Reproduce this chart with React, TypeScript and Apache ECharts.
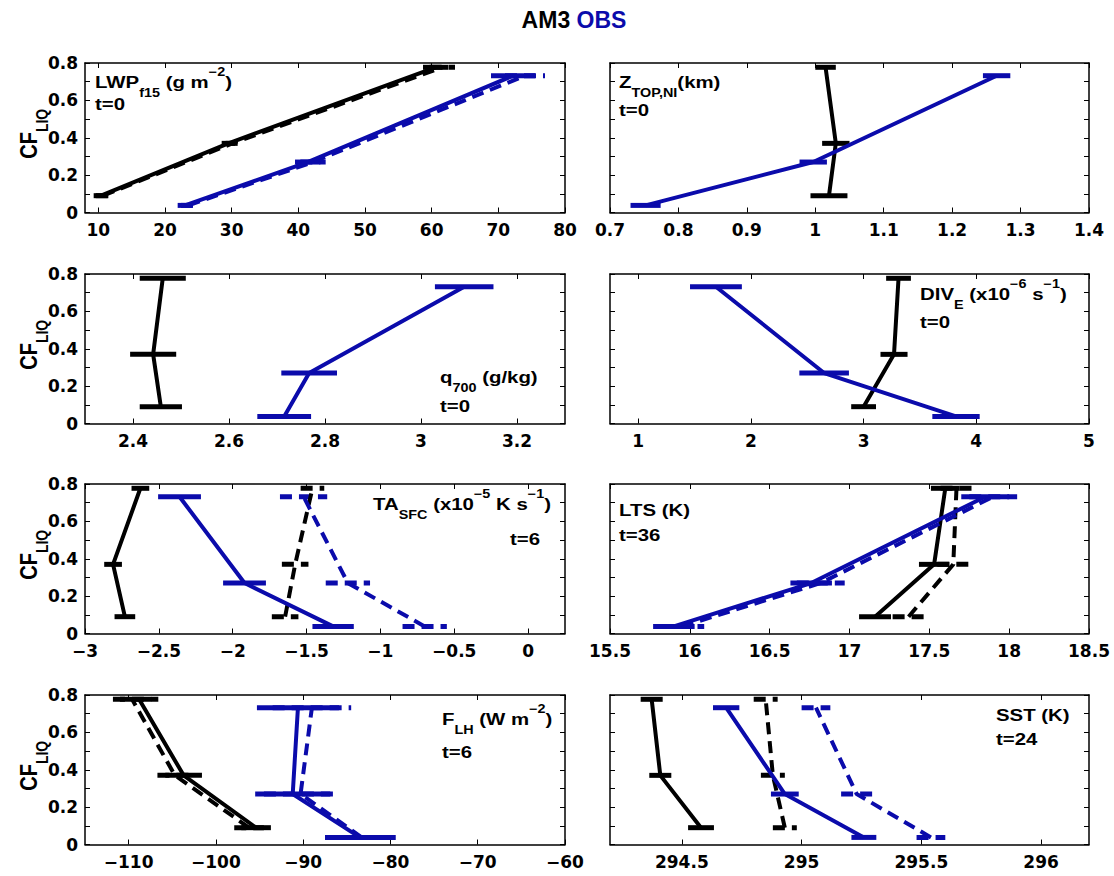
import React, { useEffect, useRef } from "react";
import * as echarts from "echarts";

// ---------- data ----------
// cloud-fraction (y) of the three bins
const cfAm3 = [0.09, 0.37, 0.777];
const cfObs = [0.038, 0.27, 0.732];
const cfTicks = [0, 0.1, 0.2, 0.3, 0.4, 0.5, 0.6, 0.7, 0.8];
const cfLabels = [0, 0.2, 0.4, 0.6, 0.8];

// LWP_f15
const lwpTicks = [10, 20, 30, 40, 50, 60, 70, 80];
const lwpAm3 = [10.4, 29.5, 60.6];
const lwpAm3Err = [1.1, 1.0, 1.9];
const lwpAm3Dash = [10.7, 30.1, 61.6];
const lwpAm3DashErr = [1.1, 1.0, 1.9];
const lwpObs = [23.0, 41.4, 72.2];
const lwpObsErr = [1.1, 1.9, 3.3];
const lwpObsDash = [23.5, 42.2, 74.0];
const lwpObsDashErr = [1.1, 1.9, 3.0];

// Z_TOP,NI
const ztopTicks = [0.7, 0.8, 0.9, 1, 1.1, 1.2, 1.3, 1.4];
const ztopAm3 = [1.02, 1.03, 1.015];
const ztopAm3Err = [0.027, 0.02, 0.015];
const ztopObs = [0.752, 0.997, 1.265];
const ztopObsErr = [0.022, 0.02, 0.02];

// q700
const qTicks = [2.4, 2.6, 2.8, 3, 3.2];
const qAm3 = [2.458, 2.442, 2.462];
const qAm3Err = [0.044, 0.048, 0.048];
const qObs = [2.715, 2.767, 3.09];
const qObsErr = [0.056, 0.058, 0.061];

// DIV_E
const divTicks = [1, 2, 3, 4, 5];
const divAm3 = [3.0, 3.27, 3.31];
const divAm3Err = [0.11, 0.12, 0.11];
const divObs = [3.82, 2.65, 1.69];
const divObsErr = [0.21, 0.22, 0.23];

// TA_SFC
const taTicks = [-3, -2.5, -2, -1.5, -1, -0.5, 0];
const taAm3 = [-2.73, -2.81, -2.625];
const taAm3Err = [0.07, 0.06, 0.06];
const taAm3Dash = [-1.645, -1.577, -1.46];
const taAm3DashErr = [0.09, 0.09, 0.08];
const taObs = [-1.32, -1.92, -2.36];
const taObsErr = [0.14, 0.145, 0.145];
const taObsDash = [-0.7, -1.22, -1.52];
const taObsDashErr = [0.15, 0.15, 0.16];

// LTS
const ltsTicks = [15.5, 16, 16.5, 17, 17.5, 18, 18.5];
const ltsAm3 = [17.16, 17.53, 17.6];
const ltsAm3Err = [0.1, 0.095, 0.09];
const ltsAm3Dash = [17.37, 17.65, 17.67];
const ltsAm3DashErr = [0.1, 0.1, 0.1];
const ltsObs = [15.9, 16.76, 17.85];
const ltsObsErr = [0.13, 0.13, 0.15];
const ltsObsDash = [15.95, 16.82, 17.9];
const ltsObsDashErr = [0.14, 0.15, 0.15];

// F_LH
const flhTicks = [-110, -100, -90, -80, -70, -60];
const flhAm3 = [-95.4, -103.7, -108.8];
const flhAm3Err = [1.7, 2.1, 2.2];
const flhAm3Dash = [-96.2, -104.7, -109.6];
const flhAm3DashErr = [1.7, 2.0, 2.2];
const flhObs = [-83.5, -91.2, -90.6];
const flhObsErr = [4.0, 4.3, 4.7];
const flhObsDash = [-83.3, -90.3, -89.0];
const flhObsDashErr = [4.0, 4.2, 4.5];

// SST
const sstTicks = [294.5, 295, 295.5, 296];
const sstAm3 = [294.58, 294.41, 294.374];
const sstAm3Err = [0.054, 0.046, 0.046];
const sstAm3Dash = [294.93, 294.88, 294.85];
const sstAm3DashErr = [0.05, 0.05, 0.05];
const sstObs = [295.26, 294.93, 294.685];
const sstObsErr = [0.052, 0.058, 0.055];
const sstObsDash = [295.54, 295.23, 295.06];
const sstObsDashErr = [0.06, 0.065, 0.06];

// ---------- styling / layout ----------
const BLACK = "#000000";
const BLUE = "#0b0bab";
const LF = "'Liberation Sans', Arial, Helvetica, sans-serif";
const TF = "'DejaVu Sans', 'Liberation Sans', sans-serif";

const colLeft = [85, 610];
const colWidth = [480, 479];
const rowTop = [63, 274, 484, 695];
const rowHeight = 149.5;

type Curve = { xs: number[]; errs: number[]; ys: number[]; color: string; dashed: boolean };
type Panel = { xMin: number; xMax: number; ticks: number[]; curves: Curve[] };

const C = (xs: number[], errs: number[], ys: number[], color: string, dashed: boolean): Curve => ({
  xs,
  errs,
  ys,
  color,
  dashed,
});

const panels: Panel[] = [
  {
    xMin: 8, xMax: 80, ticks: lwpTicks,
    curves: [
      C(lwpAm3Dash, lwpAm3DashErr, cfAm3, BLACK, true),
      C(lwpAm3, lwpAm3Err, cfAm3, BLACK, false),
      C(lwpObsDash, lwpObsDashErr, cfObs, BLUE, true),
      C(lwpObs, lwpObsErr, cfObs, BLUE, false),
    ],
  },
  {
    xMin: 0.7, xMax: 1.4, ticks: ztopTicks,
    curves: [C(ztopAm3, ztopAm3Err, cfAm3, BLACK, false), C(ztopObs, ztopObsErr, cfObs, BLUE, false)],
  },
  {
    xMin: 2.3, xMax: 3.3, ticks: qTicks,
    curves: [C(qAm3, qAm3Err, cfAm3, BLACK, false), C(qObs, qObsErr, cfObs, BLUE, false)],
  },
  {
    xMin: 0.75, xMax: 5, ticks: divTicks,
    curves: [C(divAm3, divAm3Err, cfAm3, BLACK, false), C(divObs, divObsErr, cfObs, BLUE, false)],
  },
  {
    xMin: -3, xMax: 0.25, ticks: taTicks,
    curves: [
      C(taAm3Dash, taAm3DashErr, cfAm3, BLACK, true),
      C(taAm3, taAm3Err, cfAm3, BLACK, false),
      C(taObsDash, taObsDashErr, cfObs, BLUE, true),
      C(taObs, taObsErr, cfObs, BLUE, false),
    ],
  },
  {
    xMin: 15.5, xMax: 18.5, ticks: ltsTicks,
    curves: [
      C(ltsAm3Dash, ltsAm3DashErr, cfAm3, BLACK, true),
      C(ltsAm3, ltsAm3Err, cfAm3, BLACK, false),
      C(ltsObsDash, ltsObsDashErr, cfObs, BLUE, true),
      C(ltsObs, ltsObsErr, cfObs, BLUE, false),
    ],
  },
  {
    xMin: -115, xMax: -60, ticks: flhTicks,
    curves: [
      C(flhAm3Dash, flhAm3DashErr, cfAm3, BLACK, true),
      C(flhAm3, flhAm3Err, cfAm3, BLACK, false),
      C(flhObsDash, flhObsDashErr, cfObs, BLUE, true),
      C(flhObs, flhObsErr, cfObs, BLUE, false),
    ],
  },
  {
    xMin: 294.2, xMax: 296.2, ticks: sstTicks,
    curves: [
      C(sstAm3Dash, sstAm3DashErr, cfAm3, BLACK, true),
      C(sstAm3, sstAm3Err, cfAm3, BLACK, false),
      C(sstObsDash, sstObsDashErr, cfObs, BLUE, true),
      C(sstObs, sstObsErr, cfObs, BLUE, false),
    ],
  },
];

const fmtNum = (v: number) => {
  const r = parseFloat(Number(v).toFixed(6));
  return (r < 0 ? "\u2212" : "") + String(Math.abs(r));
};

const richFor = (size: number, color = BLACK) => {
  const small = Math.round(size * 0.72);
  return {
    m: { fontFamily: LF, fontWeight: "bold", fontSize: size, lineHeight: size + 16, verticalAlign: "middle", fill: color },
    s: { fontFamily: LF, fontWeight: "bold", fontSize: small, lineHeight: small, verticalAlign: "bottom", fill: color },
    p: { fontFamily: LF, fontWeight: "bold", fontSize: small, lineHeight: small, verticalAlign: "top", fill: color },
  };
};

const label = (text: string, x: number, y: number, align: string = "left", size = 17, sx = 1.2) => ({
  type: "text",
  x,
  y,
  scaleX: sx,
  silent: true,
  style: {
    text,
    rich: richFor(size),
    align,
    verticalAlign: "middle",
    font: `bold ${size}px ${LF}`,
    fill: BLACK,
  },
});

function buildOption() {
  const grid: any[] = [];
  const xAxis: any[] = [];
  const yAxis: any[] = [];
  const series: any[] = [];

  panels.forEach((p, i) => {
    const col = i % 2;
    const row = Math.floor(i / 2);
    grid.push({
      left: colLeft[col],
      top: rowTop[row],
      width: colWidth[col],
      height: rowHeight,
      containLabel: false,
      show: false,
    });
    const lineStyle = { color: BLACK, width: 1.5 };
    const tickStyle = { color: BLACK, width: 1 };
    const tickLabel = {
      formatter: fmtNum,
      color: BLACK,
      fontFamily: TF,
      fontWeight: "bold",
      fontSize: 17,
      lineHeight: 16,
      showMinLabel: true,
      showMaxLabel: true,
    };
    const baseX = {
      type: "value",
      gridIndex: i,
      min: p.xMin,
      max: p.xMax,
      splitLine: { show: false },
      axisLine: { show: true, onZero: false, lineStyle },
      axisTick: { show: true, inside: true, length: 5, lineStyle: tickStyle, customValues: p.ticks },
    };
    xAxis.push({
      ...baseX,
      position: "bottom",
      axisLabel: { show: true, customValues: p.ticks, margin: 9, ...tickLabel },
    });
    xAxis.push({ ...baseX, position: "top", axisLabel: { show: false } });
    const baseY = {
      type: "value",
      gridIndex: i,
      min: 0,
      max: 0.8,
      splitLine: { show: false },
      axisLine: { show: true, onZero: false, lineStyle },
      axisTick: { show: true, inside: true, length: 5, lineStyle: tickStyle, customValues: cfTicks },
    };
    yAxis.push({
      ...baseY,
      position: "left",
      axisLabel: { show: col === 0, customValues: cfLabels, margin: 7, ...tickLabel },
    });
    yAxis.push({ ...baseY, position: "right", axisLabel: { show: false } });

    p.curves.forEach((c) => {
      series.push({
        type: "line",
        xAxisIndex: 2 * i,
        yAxisIndex: 2 * i,
        data: c.xs.map((x, k) => [x, c.ys[k]]),
        symbol: "none",
        silent: true,
        lineStyle: { color: c.color, width: 4, type: c.dashed ? [12, 7] : "solid", cap: "butt" },
        z: 3,
      });
      series.push({
        type: "custom",
        xAxisIndex: 2 * i,
        yAxisIndex: 2 * i,
        data: c.xs.map((x, k) => [x, c.ys[k], c.errs[k]]),
        encode: { x: 0, y: 1 },
        silent: true,
        z: 3,
        renderItem: (params: any, api: any) => {
          const x = api.value(0);
          const y = api.value(1);
          const e = api.value(2);
          const a = api.coord([x - e, y]);
          const b = api.coord([x + e, y]);
          return {
            type: "line",
            shape: { x1: a[0], y1: a[1], x2: b[0], y2: b[1] },
            style: { stroke: c.color, lineWidth: 5, lineDash: c.dashed ? [12, 7] : null },
          };
        },
      });
    });
  });

  const graphic: any[] = [
    {
      type: "text",
      x: 574,
      y: 20,
      silent: true,
      style: {
        text: "{a|AM3} {b|OBS}",
        align: "center",
        verticalAlign: "middle",
        font: `bold 23px ${LF}`,
        rich: {
          a: { fontFamily: LF, fontWeight: "bold", fontSize: 23, fill: BLACK },
          b: { fontFamily: LF, fontWeight: "bold", fontSize: 23, fill: BLUE },
        },
      },
    },
    label("{m|LWP}{s|f15}{m| (g m}{p|\u22122}{m|)}", 95, 82),
    label("{m|t=0}", 95, 104),
    label("{m|Z}{s|TOP,NI}{m|(km)}", 619, 82),
    label("{m|t=0}", 619, 110),
    label("{m|q}{s|700}{m| (g/kg)}", 440, 377),
    label("{m|t=0}", 440, 406),
    label("{m|DIV}{s|E}{m| (x10}{p|\u22126}{m| s}{p|\u22121}{m|)}", 920, 294),
    label("{m|t=0}", 920, 322),
    label("{m|TA}{s|SFC}{m| (x10}{p|\u22125}{m| K s}{p|\u22121}{m|)}", 551, 504, "right"),
    label("{m|t=6}", 540, 539, "right"),
    label("{m|LTS (K)}", 619, 510),
    label("{m|t=36}", 619, 535),
    label("{m|F}{s|LH}{m| (W m}{p|\u22122}{m|)}", 442, 719),
    label("{m|t=6}", 442, 752),
    label("{m|SST (K)}", 996, 715),
    label("{m|t=24}", 996, 739),
  ];
  for (let r = 0; r < 4; r++) {
    graphic.push({
      type: "text",
      x: 29,
      y: rowTop[r] + rowHeight / 2 - 4,
      rotation: Math.PI / 2,
      scaleY: 1.15,
      silent: true,
      style: {
        text: "{m|CF}{s|LIQ}",
        rich: richFor(20),
        align: "center",
        verticalAlign: "middle",
        font: `bold 20px ${LF}`,
        fill: BLACK,
      },
    });
  }

  return {
    animation: false,
    backgroundColor: "#ffffff",
    grid,
    xAxis,
    yAxis,
    series,
    graphic,
  };
}

export default function App() {
  const ref = useRef<HTMLDivElement>(null);
  useEffect(() => {
    document.body.style.margin = "0";
    if (!ref.current) return;
    const chart = echarts.init(ref.current, undefined, { renderer: "svg" });
    chart.setOption(buildOption() as any);
    return () => {
      chart.dispose();
    };
  }, []);
  return <div ref={ref} style={{ width: 1114, height: 876, background: "#fff" }} />;
}
